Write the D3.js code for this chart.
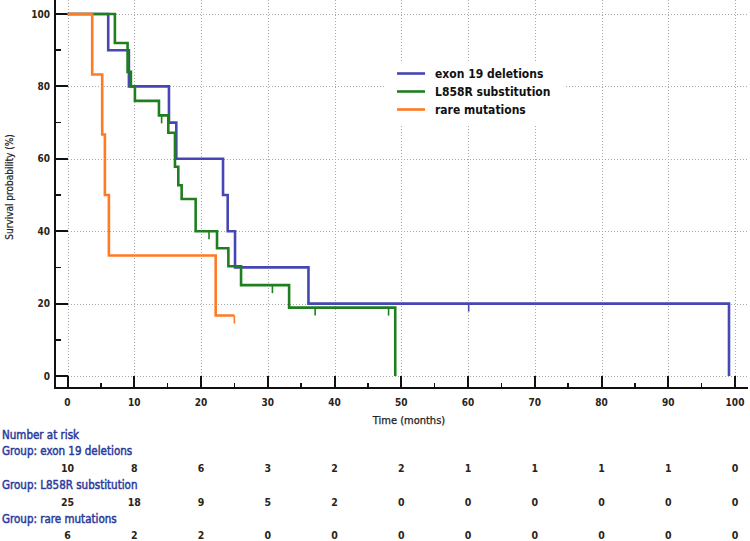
<!DOCTYPE html>
<html>
<head>
<meta charset="utf-8">
<script src="https://cdn.jsdelivr.net/npm/d3@7"></script>
<style>
  html, body { margin: 0; padding: 0; background: #fff; }
  svg { display: block; }
  text { font-family: "DejaVu Sans Condensed", "DejaVu Sans", sans-serif; }
</style>
</head>
<body>
<svg id="chart" width="750" height="541"></svg>
<script>
// ---- Data ----
const groupNames = ["exon 19 deletions", "L858R substitution", "rare mutations"];
const groupColors = ["#4646b4", "#1f7f1f", "#ff7a22"];

// Kaplan-Meier step points (time in months, survival %)
const exonTimes = [0, 6.1, 9.2, 15.2, 16.3, 23.3, 24.0, 25.1, 36.1, 99.1];
const exonSurv  = [100, 90, 80, 70, 60, 50, 40, 30, 20, 0];
const exonCensorTimes = [60.1];
const exonCensorSurv  = [20];

const l858Times = [0, 7.1, 9.0, 9.5, 10.1, 13.7, 15.1, 16.1, 16.6, 17.1, 19.2, 22.4, 24.1, 26.0, 33.2, 49.1];
const l858Surv  = [100, 92, 84, 80, 76, 72, 67.2, 57.8, 52.7, 48.9, 40, 35.3, 30.3, 25.1, 18.9, 0];
const l858CensorTimes = [14.1, 21.2, 30.7, 37.1, 48.1];
const l858CensorSurv  = [72, 40, 25.1, 18.9, 18.9];

const rareTimes = [0, 3.7, 5.2, 5.6, 6.2, 22.2, 25.0];
const rareSurv  = [100, 83.3, 66.7, 50, 33.3, 16.7, 16.7];
const rareCensorTimes = [25.0];
const rareCensorSurv  = [16.7];

const xTicks = [0, 10, 20, 30, 40, 50, 60, 70, 80, 90, 100];
const yTicks = [0, 20, 40, 60, 80, 100];

const riskExon = [10, 8, 6, 3, 2, 2, 1, 1, 1, 1, 0];
const riskL858 = [25, 18, 9, 5, 2, 0, 0, 0, 0, 0, 0];
const riskRare = [6, 2, 2, 0, 0, 0, 0, 0, 0, 0, 0];

// ---- Layout ----
const svg = d3.select("#chart");
const x = d3.scaleLinear().domain([0, 100]).range([67.5, 735]);
const y = d3.scaleLinear().domain([0, 100]).range([376, 14]);
const axisX = 55, axisY = 388;

// Grid
const grid = svg.append("g").attr("stroke", "#a8a8a8").attr("stroke-width", 1)
  .attr("stroke-dasharray", "1,2").attr("shape-rendering", "crispEdges");
grid.selectAll("line.v").data(xTicks).join("line")
  .attr("x1", d => Math.round(x(d)) + 0.5).attr("x2", d => Math.round(x(d)) + 0.5)
  .attr("y1", 0).attr("y2", y(0));
grid.selectAll("line.h").data(yTicks).join("line")
  .attr("x1", x(0)).attr("x2", 748)
  .attr("y1", d => Math.round(y(d)) + 0.5).attr("y2", d => Math.round(y(d)) + 0.5);

// Axes lines
const ax = svg.append("g").attr("stroke", "#111").attr("shape-rendering", "crispEdges");
ax.append("line").attr("x1", axisX).attr("x2", axisX).attr("y1", 0).attr("y2", axisY + 1).attr("stroke-width", 2);
ax.append("line").attr("x1", axisX).attr("x2", 748).attr("y1", axisY).attr("y2", axisY).attr("stroke-width", 2);

// Y ticks (inward)
const yMinor = d3.range(10, 100, 20);
ax.selectAll("line.ym").data(yTicks).join("line")
  .attr("x1", axisX).attr("x2", x(0)).attr("y1", d => y(d)).attr("y2", d => y(d)).attr("stroke-width", 2);
ax.selectAll("line.ymi").data(yMinor).join("line")
  .attr("x1", axisX).attr("x2", axisX + 6).attr("y1", d => y(d)).attr("y2", d => y(d)).attr("stroke-width", 1.5);
// X ticks (inward)
const xMinor = d3.range(5, 100, 10);
ax.selectAll("line.xm").data(xTicks).join("line")
  .attr("x1", d => x(d)).attr("x2", d => x(d)).attr("y1", axisY).attr("y2", y(0)).attr("stroke-width", 2);
ax.selectAll("line.xmi").data(xMinor).join("line")
  .attr("x1", d => x(d)).attr("x2", d => x(d)).attr("y1", axisY).attr("y2", axisY - 5).attr("stroke-width", 1.5);

// Tick labels
svg.selectAll("text.yl").data(yTicks).join("text")
  .attr("x", 50).attr("y", d => y(d)).attr("dy", "0.36em")
  .attr("text-anchor", "end").attr("font-size", 10).attr("font-weight", "bold").attr("fill", "#2a2418")
  .text(d => d);
svg.selectAll("text.xl").data(xTicks).join("text")
  .attr("x", d => x(d)).attr("y", 406)
  .attr("text-anchor", "middle").attr("font-size", 10).attr("font-weight", "bold").attr("fill", "#2a2418")
  .text(d => d);

// Axis titles
svg.append("text").attr("x", 409).attr("y", 424).attr("text-anchor", "middle")
  .attr("font-size", 11).attr("fill", "#222").attr("stroke", "#222").attr("stroke-width", 0.25)
  .text("Time (months)");
svg.append("text").attr("transform", "translate(13,187) rotate(-90)").attr("text-anchor", "middle")
  .attr("font-size", 10).attr("fill", "#222").attr("stroke", "#222").attr("stroke-width", 0.2)
  .text("Survival probability (%)");

// Legend background
svg.append("rect").attr("x", 386).attr("y", 62).attr("width", 180).attr("height", 62).attr("fill", "#fff");

// Curves
const line = d3.line().x(d => x(d[0])).y(d => y(d[1])).curve(d3.curveStepAfter);
const series = [
  {t: exonTimes, s: exonSurv, ct: exonCensorTimes, cs: exonCensorSurv},
  {t: l858Times, s: l858Surv, ct: l858CensorTimes, cs: l858CensorSurv},
  {t: rareTimes, s: rareSurv, ct: rareCensorTimes, cs: rareCensorSurv}
];
series.forEach((sr, i) => {
  const pts = sr.t.map((t, j) => [t, sr.s[j]]);
  const g = svg.append("g");
  g.append("path").attr("d", line(pts)).attr("fill", "none")
    .attr("stroke", groupColors[i]).attr("stroke-width", 2.6).attr("stroke-linejoin", "miter");
  g.selectAll("line").data(sr.ct.map((t, j) => [t, sr.cs[j]])).join("line")
    .attr("x1", d => x(d[0])).attr("x2", d => x(d[0]))
    .attr("y1", d => y(d[1])).attr("y2", d => y(d[1]) + 8)
    .attr("stroke", groupColors[i]).attr("stroke-width", 1.6);
});

// Legend
const lg = svg.append("g");
groupNames.forEach((name, i) => {
  const ly = 73.5 + i * 18;
  lg.append("line").attr("x1", 397).attr("x2", 425).attr("y1", ly).attr("y2", ly)
    .attr("stroke", groupColors[i]).attr("stroke-width", 2.6);
  lg.append("text").attr("x", 435).attr("y", ly).attr("dy", "0.36em")
    .attr("font-size", 12).attr("font-weight", "bold").attr("fill", "#111").text(name);
});

// Number at risk table
const labelColor = "#2b3a9c";
const tbl = svg.append("g");
tbl.append("text").attr("x", 2).attr("y", 439).attr("font-size", 11.5)
  .attr("fill", labelColor).attr("stroke", labelColor).attr("stroke-width", 0.45)
  .text("Number at risk");
const riskRows = [riskExon, riskL858, riskRare];
const groupY = [455, 489, 523];
const numY = [472, 506, 539];
riskRows.forEach((row, i) => {
  tbl.append("text").attr("x", 2).attr("y", groupY[i]).attr("font-size", 11.5)
    .attr("fill", labelColor).attr("stroke", labelColor).attr("stroke-width", 0.45)
    .text("Group: " + groupNames[i]);
  tbl.selectAll("text.n" + i).data(row).join("text")
    .attr("x", (d, j) => x(xTicks[j])).attr("y", numY[i])
    .attr("text-anchor", "middle").attr("font-size", 10.5).attr("font-weight", "bold").attr("fill", "#2a2418")
    .text(d => d);
});
</script>
</body>
</html>
